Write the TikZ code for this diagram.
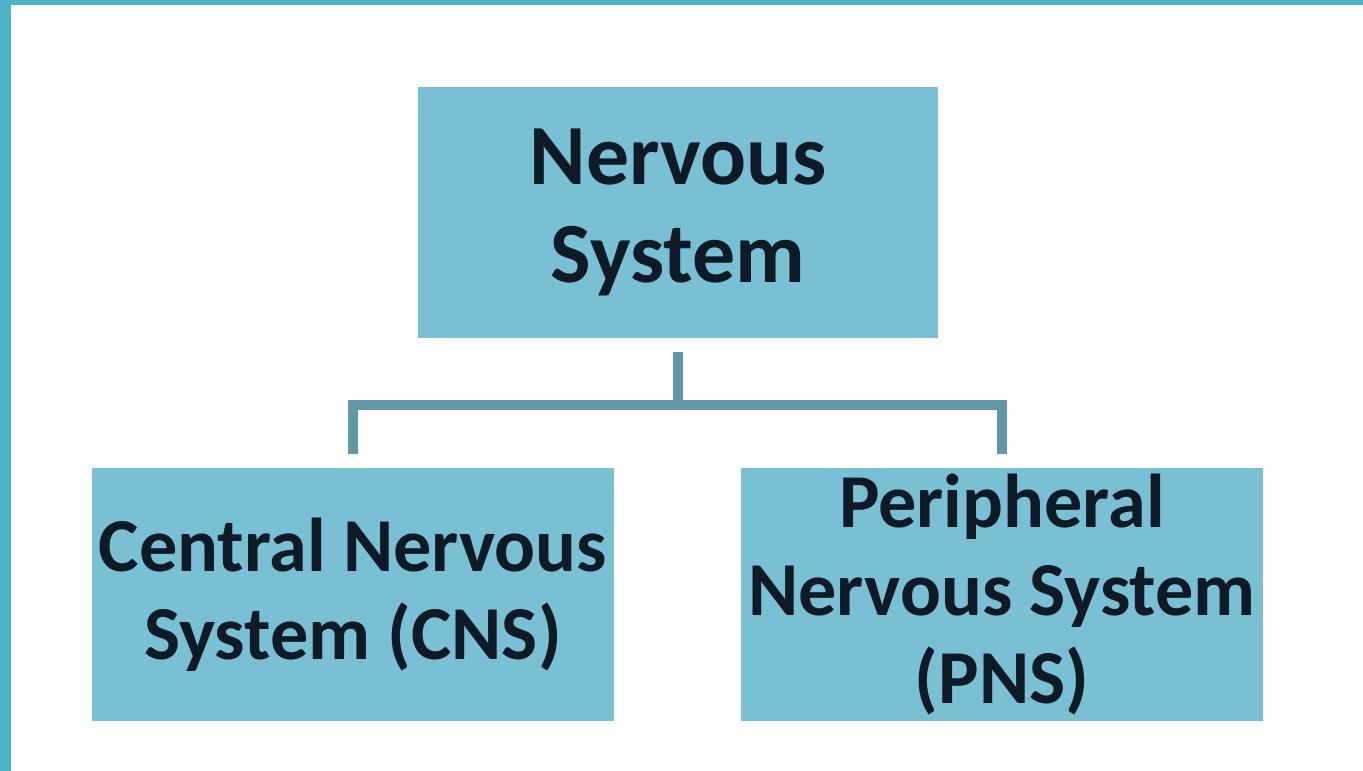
\documentclass[tikz,border=0pt]{standalone}
\usepackage{fontspec}
\setmainfont{Carlito}
\usepackage{xcolor}

\definecolor{frameteal}{RGB}{79,179,200}
\definecolor{boxfill}{RGB}{122,192,212}
\definecolor{linkgray}{RGB}{98,152,166}
\definecolor{inkdark}{RGB}{14,26,38}

\tikzset{
  unitbox/.style={fill=boxfill, inner sep=0pt, align=center, text=inkdark,
    minimum width=10.44cm, minimum height=5.06cm, font=\bfseries},
  link/.style={draw=linkgray, line width=5.6pt, line join=miter}
}

\begin{document}
\begin{tikzpicture}[x=0.02cm,y=-0.02cm]
  \useasboundingbox (0,0) rectangle (1363,771);
  % slide frame
  \fill[white] (0,0) rectangle (1363,771);
  \fill[frameteal] (0,0) rectangle (11,771);
  \fill[frameteal] (0,0) rectangle (1363,5);
  % boxes
  \node[unitbox, minimum width=10.4cm, minimum height=5.02cm,
        font=\bfseries\fontsize{48.8}{56.1}\selectfont] (nervous) at (678,212.5) {Nervous\\System};
  \node[unitbox, font=\bfseries\fontsize{43.4}{50.2}\selectfont] (cns) at (353,594.5) {Central Nervous\\System (CNS)};
  \node[unitbox, font=\bfseries\fontsize{43.4}{50.2}\selectfont] (pns) at (1002,594.5) {Peripheral\\Nervous System\\(PNS)};
  % connectors
  \coordinate (split) at (678,405);
  \draw[link, shorten <=0.28cm] (nervous.south) -- (split);
  \draw[link, shorten <=0.28cm, shorten >=0.28cm] (cns.north) |- (split) -| (pns.north);
\end{tikzpicture}
\end{document}
